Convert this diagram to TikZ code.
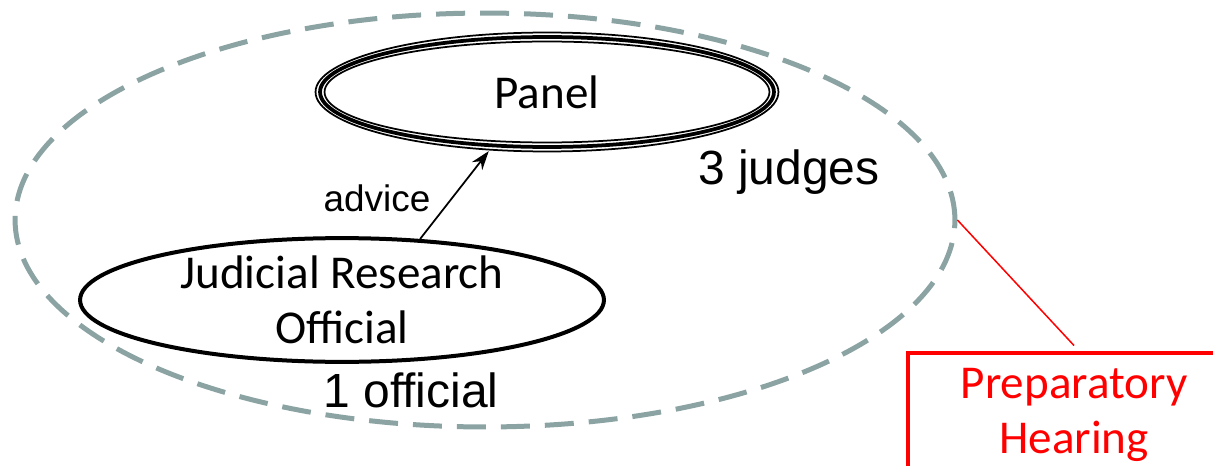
\documentclass[tikz,border=0pt]{standalone}
\usepackage{fontspec}
\setmainfont{Carlito}
\newfontfamily\labelfont{Liberation Sans}
\usetikzlibrary{shapes.geometric,arrows.meta}
\definecolor{ringgray}{RGB}{140,163,163}
\definecolor{hearred}{RGB}{255,0,0}
\begin{document}
\begin{tikzpicture}[x=0.02cm,y=-0.02cm,
  bodytext/.style={font=\fontsize{26.8pt}{31pt}\selectfont, align=center},
  labeltext/.style={font=\labelfont\fontsize{27.3pt}{32pt}\selectfont, anchor=base, inner sep=0pt},
  ellipsenode/.style={ellipse, draw, inner sep=0pt},
  hearingring/.style={ellipse, draw=ringgray, line width=0.1cm,
    dash pattern=on 0.58cm off 0.3cm, inner sep=0pt},
  stagebox/.style={rectangle, draw=hearred, line width=0.08cm, text=hearred, inner sep=0pt}
]
\useasboundingbox (0,0) rectangle (1213,466);
\clip (0,0) rectangle (1213,466);

% preparatory hearing boundary
\node[hearingring, minimum width=18.8cm, minimum height=8.28cm] (ring) at (485,220) {};

% panel of judges, drawn with a triple outline
\node[ellipsenode, bodytext, line width=0.075cm, minimum width=9.08cm, minimum height=2.2cm] (panel) at (547,92) {Panel};
\draw[line width=0.035cm] (panel.center) ellipse [x radius=4.63cm, y radius=1.19cm];
\draw[line width=0.035cm] (panel.center) ellipse [x radius=4.45cm, y radius=1.01cm];

% judicial research official
\node[ellipsenode, bodytext, line width=0.08cm, minimum width=10.48cm, minimum height=2.28cm] (jro) at (342,300) {Judicial Research\\Official};

% advice relation
\draw[-{Stealth[length=0.38cm,width=0.26cm]}, line width=0.035cm, shorten >=0.1cm] (jro.38) -- (panel.225);
\node[labeltext, font=\labelfont\fontsize{21pt}{25pt}\selectfont] (advice) at (377,211) {advice};

% head counts
\node[labeltext] (judges) at (789,184) {3 judges};
\node[labeltext] (official) at (411,407) {1 official};

% stage label
\node[stagebox, bodytext, minimum width=6.64cm, minimum height=2.5cm] (prep) at (1074,415) {Preparatory\\Hearing};
\draw[hearred, line width=0.03cm] (ring.east) -- ([yshift=0.1cm]prep.north);
\end{tikzpicture}
\end{document}
